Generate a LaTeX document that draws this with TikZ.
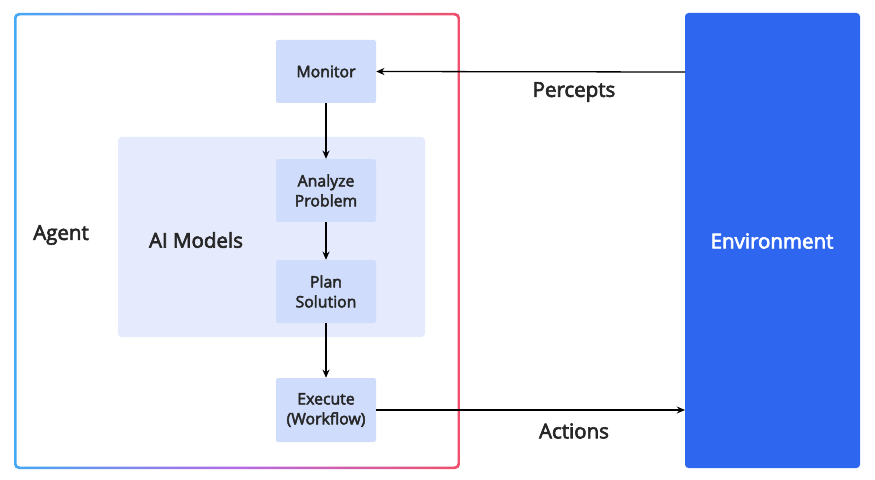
\documentclass[tikz,border=0pt]{standalone}
\usepackage{fontspec}
\setmainfont{Open Sans}[BoldFont={Open Sans},BoldFeatures={FakeBold=3}]
\usetikzlibrary{arrows.meta}
\definecolor{nodef}{HTML}{CFDCFB}
\definecolor{aif}{HTML}{E5EBFC}
\definecolor{envf}{HTML}{2F66F0}
\definecolor{gblue}{HTML}{45A8F2}
\definecolor{gpurp}{HTML}{B46AE6}
\definecolor{gred}{HTML}{F0506A}
\begin{document}
\begin{tikzpicture}[x=0.03cm,y=-0.03cm,
  box/.style={fill=nodef,rounded corners=2pt,align=center,inner sep=0pt,font=\fontsize{13.5}{17}\selectfont\bfseries\color{black!85}},
  lab/.style={font=\fontsize{17.5}{20}\selectfont\bfseries\color{black!85}},
  arr/.style={-{Stealth[length=7pt,width=6pt]},line width=1.1pt,black}]
\useasboundingbox (0,0) rectangle (875,480);
\shade[left color=gblue,right color=gred,middle color=gpurp,rounded corners=4pt] (14,13) rectangle (460,469);
\fill[white,rounded corners=3pt] (16.5,15.5) rectangle (457.5,466.5);
\fill[aif,rounded corners=3pt] (118,137) rectangle (425,337);
\fill[envf,rounded corners=3pt] (685,13) rectangle (860,468);
\node[font=\fontsize{17.5}{20}\selectfont\bfseries\color{white}] (env) at (772,241) {Environment};
\node[box,minimum width=100*0.03cm,minimum height=63*0.03cm] (mon) at (326,71.5) {Monitor};
\node[box,minimum width=100*0.03cm,minimum height=63*0.03cm] (ana) at (326,190.5) {Analyze\\Problem};
\node[box,minimum width=100*0.03cm,minimum height=63*0.03cm] (plan) at (326,291.5) {Plan\\Solution};
\node[box,minimum width=100*0.03cm,minimum height=64*0.03cm] (exe) at (326,410) {Execute\\(Workflow)};
\node[lab] (agent) at (61,235) {Agent};
\node[lab] (ai) at (196,240) {AI Models};
\node[lab] (perc) at (574,92) {Percepts};
\node[lab] (act) at (574,431) {Actions};
\coordinate (envtop) at (685,72);
\coordinate (envbot) at (685,410);
\draw[arr] (envtop) -- (mon.east);
\draw[arr] (exe.east) -- (envbot);
\draw[arr] (mon) -- (ana);
\draw[arr] (ana) -- (plan);
\draw[arr] (plan) -- (exe);
\end{tikzpicture}
\end{document}
